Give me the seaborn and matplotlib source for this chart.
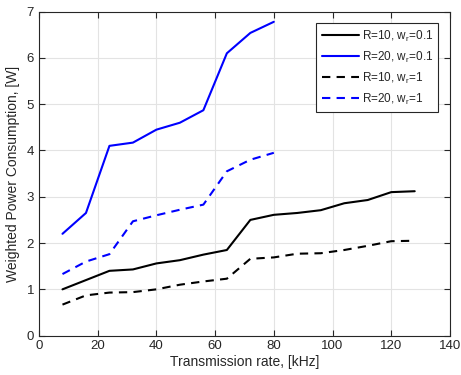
import numpy as np
import matplotlib
matplotlib.use("Agg")
import matplotlib.pyplot as plt
import seaborn as sns

rate_long = [8, 16, 24, 32, 40, 48, 56, 64, 72, 80, 88, 96, 104, 112, 120, 128]
rate_short = [8, 16, 24, 32, 40, 48, 56, 64, 72, 80]

r10_w01 = [1.0, 1.2, 1.4, 1.43, 1.56, 1.63, 1.75, 1.85, 2.5, 2.61, 2.65, 2.71, 2.86, 2.93, 3.1, 3.12]
r20_w01 = [2.2, 2.65, 4.1, 4.17, 4.45, 4.6, 4.87, 6.1, 6.54, 6.78]
r10_w1 = [0.67, 0.87, 0.93, 0.94, 1.0, 1.1, 1.17, 1.23, 1.66, 1.69, 1.77, 1.78, 1.85, 1.94, 2.04, 2.05]
r20_w1 = [1.33, 1.6, 1.76, 2.47, 2.6, 2.72, 2.83, 3.55, 3.8, 3.95]

labels = ["R=10, w$_\\mathregular{r}$=0.1", "R=20, w$_\\mathregular{r}$=0.1",
          "R=10, w$_\\mathregular{r}$=1", "R=20, w$_\\mathregular{r}$=1"]

sns.set_style("ticks")
plt.rcParams['font.family'] = ['Liberation Sans', 'DejaVu Sans']
plt.rcParams['mathtext.fontset'] = 'custom'
plt.rcParams['mathtext.rm'] = 'Liberation Sans'

fig = plt.figure(figsize=(4.61, 3.75), dpi=100)
ax = fig.add_axes([0.0846, 0.105, 0.8914, 0.864])

sns.lineplot(x=rate_long, y=r10_w01, color='black', lw=1.5, label=labels[0], ax=ax)
sns.lineplot(x=rate_short, y=r20_w01, color='blue', lw=1.5, label=labels[1], ax=ax)
sns.lineplot(x=rate_long, y=r10_w1, color='black', lw=1.5, ls=(0, (4, 3)), label=labels[2], ax=ax)
sns.lineplot(x=rate_short, y=r20_w1, color='blue', lw=1.5, ls=(0, (4, 3)), label=labels[3], ax=ax)

ax.set_xlim(0, 140)
ax.set_ylim(0, 7)
ax.set_xticks(np.arange(0, 141, 20))
ax.set_yticks(np.arange(0, 8, 1))
ax.grid(True, color='#e3e3e3', lw=0.8)
ax.tick_params(direction='in', top=True, right=True, labelsize=9.5, colors='#262626', length=4)
for s in ax.spines.values():
    s.set_color('#262626')
    s.set_linewidth(0.8)
ax.set_xlabel("Transmission rate, [kHz]", fontsize=10, color='#262626', labelpad=2)
ax.set_ylabel("Weighted Power Consumption, [W]", fontsize=10, color='#262626', labelpad=5)

leg = ax.legend(loc='upper right', bbox_to_anchor=(0.972, 0.964), fontsize=8.5,
                fancybox=False, framealpha=1, edgecolor='#262626', handlelength=3.2,
                handletextpad=0.2, borderpad=0.45, labelspacing=0.5, borderaxespad=0)
leg.get_frame().set_linewidth(0.8)

fig.savefig("out.png", dpi=100)
